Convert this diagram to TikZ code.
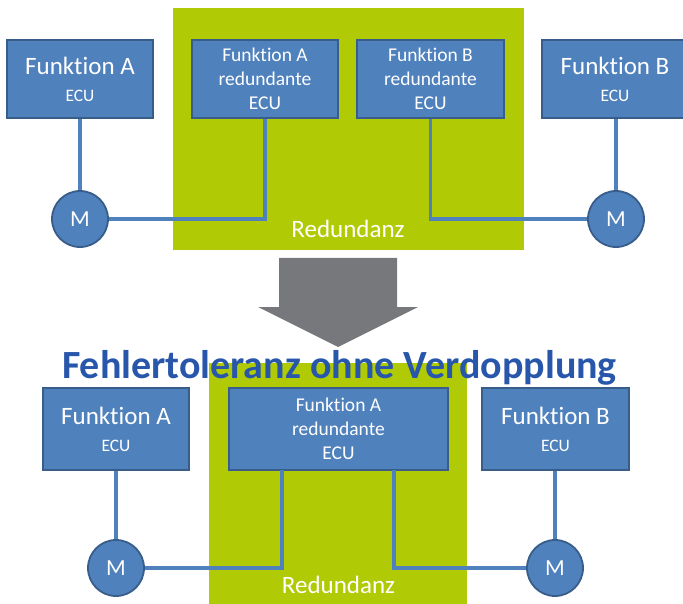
\documentclass[tikz,border=0pt]{standalone}
\usepackage{fontspec}
\setmainfont{Carlito}[Ligatures=NoCommon]
\definecolor{boxblue}{RGB}{79,129,189}
\definecolor{boxedge}{RGB}{56,93,138}
\definecolor{lime}{RGB}{176,203,5}
\definecolor{arrowgray}{RGB}{119,120,123}
\definecolor{titleblue}{RGB}{40,86,170}
\tikzset{
  ecubox/.style={draw=boxedge, line width=1.8pt, fill=boxblue, text=white, align=center, inner sep=0pt, minimum height=78pt},
  motor/.style={circle, draw=boxedge, line width=1.8pt, fill=boxblue, text=white, minimum size=56pt, inner sep=0pt, font=\fontsize{23}{26}\selectfont},
  wire/.style={draw=boxblue, line width=3.4pt},
  zone/.style={fill=lime, draw=none},
  redlabel/.style={text=white, font=\fontsize{25}{28}\selectfont, anchor=base, inner sep=0pt},
  twol/.style={font=\fontsize{25}{27}\selectfont},
  threel/.style={font=\fontsize{19.5}{24}\selectfont},
}
\newcommand{\twoline}[2]{#1\\{\fontsize{17.5}{20}\selectfont #2}}
\newcommand{\threeline}[3]{#1\\#2\\#3}
\begin{document}
\begin{tikzpicture}[x=1pt,y=-1pt]
\useasboundingbox (0,0) rectangle (683,604);
\clip (0,0) rectangle (683,604);
% ---------- top part ----------
\path[zone] (173,8) rectangle (524,250);
\node[redlabel] (rtop) at (348,238) {Redundanz};
\node[ecubox, twol, minimum width=146pt] (a1) at (80,79) {\twoline{Funktion A}{ECU}};
\node[ecubox, threel, minimum width=146pt] (ar1) at (265,79) {\threeline{Funktion A}{redundante}{ECU}};
\node[ecubox, threel, minimum width=147pt] (br1) at (430.5,79) {\threeline{Funktion B}{redundante}{ECU}};
\node[ecubox, twol, minimum width=146pt] (b1) at (615,79) {\twoline{Funktion B}{ECU}};
\node[motor] (m1) at (80,219) {M};
\node[motor] (m2) at (616,219) {M};
\draw[wire] (a1.south) -- (m1.north);
\draw[wire] (m1.east) -| (ar1.south);
\draw[wire] (br1.south) |- (m2.west);
\draw[wire] (b1.south -| m2.north) -- (m2.north);
% ---------- arrow ----------
\fill[arrowgray] (279,258) -- (397,258) -- (397,307) -- (418,307) -- (338,347) -- (258,307) -- (279,307) -- cycle;
% ---------- bottom part ----------
\path[zone] (209,363) rectangle (467,604);
\node[font=\fontsize{40}{44}\selectfont\bfseries, text=titleblue, anchor=base, inner sep=0pt] (title) at (339.5,378) {Fehlertoleranz ohne Verdopplung};
\node[redlabel] (rbot) at (338.5,593) {Redundanz};
\node[ecubox, twol, minimum width=146pt, minimum height=82pt] (a2) at (116,429) {\twoline{Funktion A}{ECU}};
\node[ecubox, threel, minimum width=219pt, minimum height=82pt] (ar2) at (338.5,429) {\threeline{Funktion A}{redundante}{ECU}};
\node[ecubox, twol, minimum width=147pt, minimum height=82pt] (b2) at (555.5,429) {\twoline{Funktion B}{ECU}};
\node[motor] (m3) at (116,568) {M};
\node[motor] (m4) at (555,568) {M};
\coordinate (p1) at (282,470);
\coordinate (p2) at (394,470);
\draw[wire] (a2.south) -- (m3.north);
\draw[wire] (m3.east) -| (p1);
\draw[wire] (p2) |- (m4.west);
\draw[wire] (b2.south -| m4.north) -- (m4.north);
\end{tikzpicture}
\end{document}
